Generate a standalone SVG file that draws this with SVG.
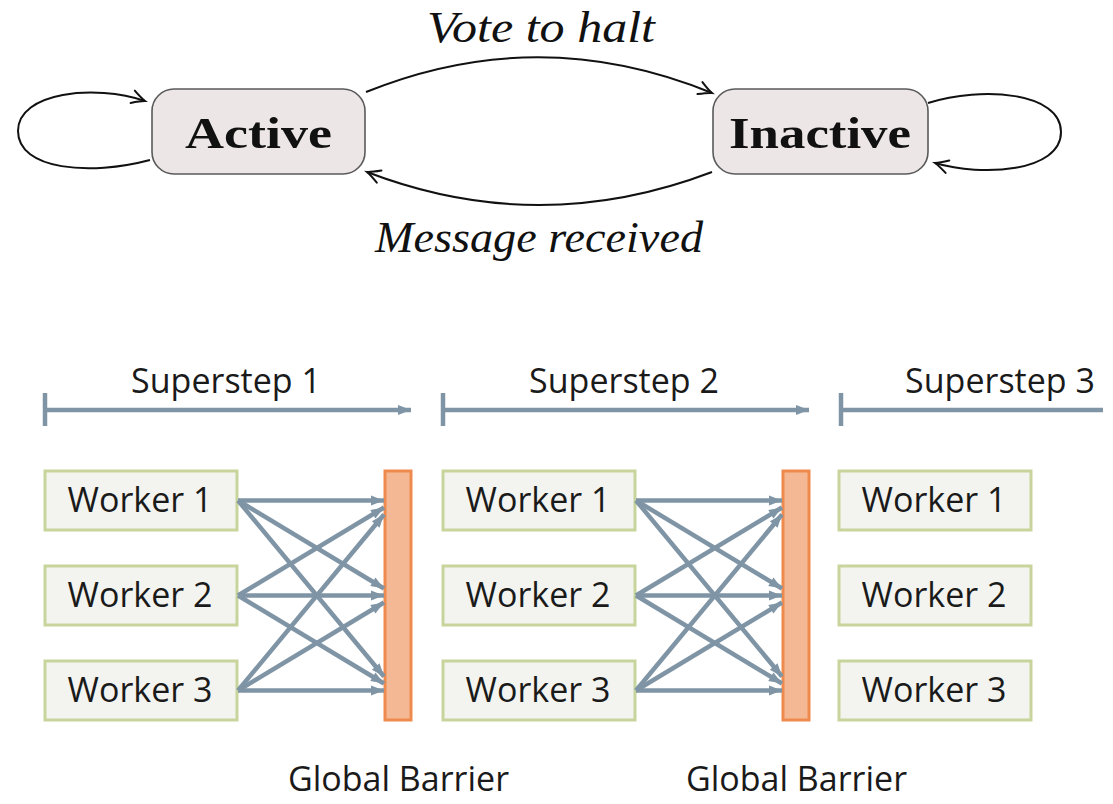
<svg xmlns="http://www.w3.org/2000/svg" width="1113" height="804" viewBox="0 0 1113 804">
  <style>
    .state { fill: #ece6e6; stroke: #5a5a5a; stroke-width: 1.6; }
    .stateLabel { font-family: "Liberation Serif", "DejaVu Serif", serif; font-weight: bold; font-size: 44px; fill: #111; text-anchor: middle; }
    .edgeLabel { font-family: "Liberation Serif", "DejaVu Serif", serif; font-style: italic; font-size: 44px; fill: #111; text-anchor: middle; }
    .trans { fill: none; stroke: #111; stroke-width: 2; marker-end: url(#latexArrow); }
    .worker { fill: #f3f4ef; stroke: #c7d59c; stroke-width: 3; }
    .sans { font-family: "Open Sans", "Noto Sans", "DejaVu Sans", sans-serif; font-size: 34px; fill: #1a1a1a; text-anchor: middle; }
    .barrier { fill: #f5b894; stroke: #ef8a4f; stroke-width: 3; }
    .msg { fill: none; stroke: #7f95a6; stroke-width: 4.5; marker-end: url(#blueArrow); }
    .step { fill: none; stroke: #7f95a6; stroke-width: 4.5; }
  </style>
  <defs>
    <marker id="latexArrow" markerUnits="userSpaceOnUse" markerWidth="18" markerHeight="16" viewBox="-15 -8 18 16" refX="0" refY="0" orient="auto">
      <path d="M -13 -6.5 Q -4.5 -1.5 0 0 Q -4.5 1.5 -13 6.5" fill="none" stroke="#111" stroke-width="2" stroke-linecap="round"/>
    </marker>
    <marker id="blueArrow" markerUnits="userSpaceOnUse" markerWidth="16" markerHeight="14" viewBox="-15 -7 16 14" refX="0" refY="0" orient="auto">
      <path d="M -13 -5 L 0 0 L -13 5 Z" fill="#7f95a6"/>
    </marker>
  </defs>

  <!-- vertex state machine -->
  <g id="active">
    <rect class="state" x="152" y="89" width="213" height="85" rx="22"/>
    <text class="stateLabel" x="258.5" y="147.5" textLength="147" lengthAdjust="spacingAndGlyphs">Active</text>
  </g>
  <g id="inactive">
    <rect class="state" x="713" y="89" width="215" height="85" rx="22"/>
    <text class="stateLabel" x="820" y="147.5" textLength="182" lengthAdjust="spacingAndGlyphs">Inactive</text>
  </g>
  <g id="transitions">
    <path class="trans" d="M 150 160 C 90 176, 18 170, 18 131 C 18 92, 95 84, 145 101"/>
    <path class="trans" d="M 928 103 C 982 86, 1061 92, 1061 132 C 1061 172, 982 177, 935 163"/>
    <path class="trans" d="M 366 92 Q 539 22 712 93"/>
    <path class="trans" d="M 712 172 Q 539 238 367 172"/>
    <text class="edgeLabel" x="541" y="42" textLength="228" lengthAdjust="spacingAndGlyphs">Vote to halt</text>
    <text class="edgeLabel" x="539" y="252" textLength="328" lengthAdjust="spacingAndGlyphs">Message received</text>
  </g>

  <!-- superstep timeline -->
  <g id="superstep1">
    <text class="sans" x="226" y="393">Superstep 1</text>
    <path class="step" d="M 45 393 V 426"/>
    <path class="msg" d="M 45 410 H 411"/>
  </g>
  <g id="superstep2">
    <text class="sans" x="624" y="393">Superstep 2</text>
    <path class="step" d="M 443 393 V 426"/>
    <path class="msg" d="M 443 410 H 809"/>
  </g>
  <g id="superstep3">
    <text class="sans" x="1000" y="393">Superstep 3</text>
    <path class="step" d="M 841 393 V 426"/>
    <path class="step" d="M 841 410 H 1103"/>
  </g>

  <!-- workers, column 1 -->
  <g id="s1-worker1"><rect class="worker" x="45" y="471" width="192" height="59"/><text class="sans" x="140" y="512">Worker 1</text></g>
  <g id="s1-worker2"><rect class="worker" x="45" y="566" width="192" height="59"/><text class="sans" x="140" y="607">Worker 2</text></g>
  <g id="s1-worker3"><rect class="worker" x="45" y="661" width="192" height="59"/><text class="sans" x="140" y="702">Worker 3</text></g>

  <!-- workers, column 2 -->
  <g id="s2-worker1"><rect class="worker" x="443" y="471" width="192" height="59"/><text class="sans" x="538" y="512">Worker 1</text></g>
  <g id="s2-worker2"><rect class="worker" x="443" y="566" width="192" height="59"/><text class="sans" x="538" y="607">Worker 2</text></g>
  <g id="s2-worker3"><rect class="worker" x="443" y="661" width="192" height="59"/><text class="sans" x="538" y="702">Worker 3</text></g>

  <!-- workers, column 3 -->
  <g id="s3-worker1"><rect class="worker" x="839" y="471" width="192" height="59"/><text class="sans" x="934" y="512">Worker 1</text></g>
  <g id="s3-worker2"><rect class="worker" x="839" y="566" width="192" height="59"/><text class="sans" x="934" y="607">Worker 2</text></g>
  <g id="s3-worker3"><rect class="worker" x="839" y="661" width="192" height="59"/><text class="sans" x="934" y="702">Worker 3</text></g>

  <!-- barriers -->
  <g id="barrier1">
    <rect class="barrier" x="385" y="471" width="26" height="249"/>
    <text class="sans" x="398.5" y="791">Global Barrier</text>
  </g>
  <g id="barrier2">
    <rect class="barrier" x="783" y="471" width="26" height="249"/>
    <text class="sans" x="796.5" y="791">Global Barrier</text>
  </g>

  <!-- messages: every worker to every slot of the barrier -->
  <g id="messages">
    <path class="msg" d="M 238 500.5 L 384 500.5"/>
    <path class="msg" d="M 238 500.5 L 384 588.5"/>
    <path class="msg" d="M 238 500.5 L 384 676.5"/>
    <path class="msg" d="M 238 595.5 L 384 507.5"/>
    <path class="msg" d="M 238 595.5 L 384 595.5"/>
    <path class="msg" d="M 238 595.5 L 384 683.5"/>
    <path class="msg" d="M 238 690.5 L 384 514.5"/>
    <path class="msg" d="M 238 690.5 L 384 602.5"/>
    <path class="msg" d="M 238 690.5 L 384 690.5"/>

    <path class="msg" d="M 636 500.5 L 782 500.5"/>
    <path class="msg" d="M 636 500.5 L 782 588.5"/>
    <path class="msg" d="M 636 500.5 L 782 676.5"/>
    <path class="msg" d="M 636 595.5 L 782 507.5"/>
    <path class="msg" d="M 636 595.5 L 782 595.5"/>
    <path class="msg" d="M 636 595.5 L 782 683.5"/>
    <path class="msg" d="M 636 690.5 L 782 514.5"/>
    <path class="msg" d="M 636 690.5 L 782 602.5"/>
    <path class="msg" d="M 636 690.5 L 782 690.5"/>
  </g>
</svg>
